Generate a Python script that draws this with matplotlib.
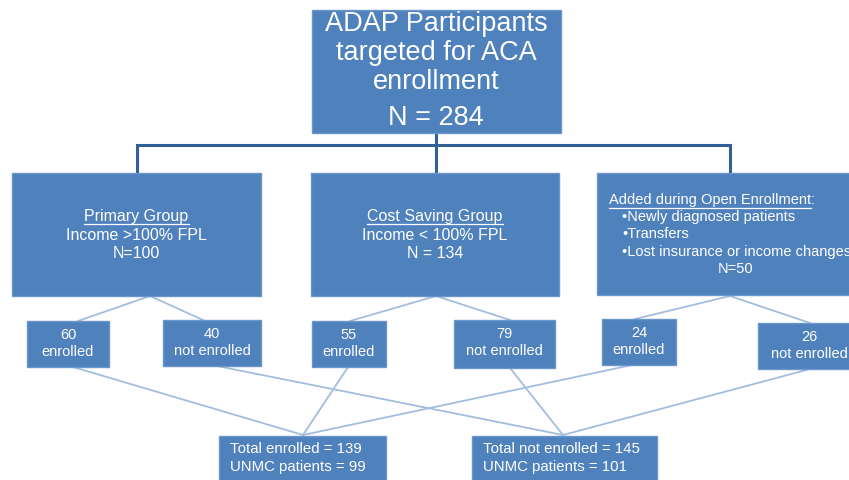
import matplotlib.pyplot as plt
from matplotlib.patches import Rectangle

plt.rcParams['font.family'] = ['Liberation Sans', 'DejaVu Sans']

box_fill = '#4f81bd'
box_edge = '#6b96cc'
dark_line = '#34609a'
light_line = '#a3bde0'

# boxes: x0, y0, x1, y1 in pixel space (y down)
top_box = (312, 10, 561, 133)
groups = ['Primary Group', 'Cost Saving Group', 'Added during Open Enrollment']
group_boxes = [(12, 173, 261, 296), (311, 173, 559, 296), (597, 173, 860, 295)]
group_lines = [['Income >100% FPL', 'N=100'],
               ['Income < 100% FPL', 'N = 134']]
added_bullets = ['Newly diagnosed patients', 'Transfers', 'Lost insurance or income changes']
added_n = 'N=50'

split_counts = [60, 40, 55, 79, 24, 26]
split_labels = ['enrolled', 'not enrolled'] * 3
split_boxes = [(27, 321, 109, 367), (163, 320, 261, 366),
               (312, 321, 386, 367), (454, 320, 555, 368),
               (602, 319, 676, 365), (758, 323, 860, 369)]

totals = [['Total enrolled = 139', 'UNMC patients = 99'],
          ['Total not enrolled = 145', 'UNMC patients = 101']]
total_boxes = [(219, 436, 386, 490), (472, 436, 657, 490)]

fig = plt.figure(figsize=(8.49, 4.8), dpi=100)
ax = fig.add_axes([0, 0, 1, 1])
ax.set_xlim(0, 849)
ax.set_ylim(480, 0)
ax.axis('off')


def box(b, lw=1.0):
    x0, y0, x1, y1 = b
    ax.add_patch(Rectangle((x0, y0), x1 - x0, y1 - y0, facecolor=box_fill,
                           edgecolor=box_edge, linewidth=lw, zorder=3))


# dark tree connectors from top box
ax.plot([137, 730], [145, 145], color=dark_line, lw=2.2, zorder=2, solid_capstyle='butt')
ax.plot([436, 436], [133, 173], color=dark_line, lw=2.2, zorder=2)
for xc in [137, 730]:
    ax.plot([xc, xc], [145, 173], color=dark_line, lw=2.2, zorder=2)

# light lines: group -> split boxes
group_bottom = [150, 436, 730]
split_top = [78, 203, 350, 510, 635, 810]
for i, sx in enumerate(split_top):
    gx = group_bottom[i // 2]
    ax.plot([gx, sx], [296, split_boxes[i][1]], color=light_line, lw=1.3, zorder=1)

# light lines: split boxes -> totals
split_bottom = [73, 217, 348, 510, 632, 810]
total_top = [303, 563]
for i, sx in enumerate(split_bottom):
    tx = total_top[i % 2]
    ax.plot([sx, tx], [split_boxes[i][3], 435], color=light_line, lw=1.3, zorder=1)

# top box
box(top_box)
top_text = ['ADAP Participants', 'targeted for ACA', 'enrollment']
for k, t in enumerate(top_text):
    ax.text(436, 24 + k * 29, t, color='white', fontsize=19.5, ha='center', va='center', zorder=4)
ax.text(436, 118, 'N = 284', color='white', fontsize=19.5, ha='center', va='center', zorder=4)

# group boxes
underlined = []
for i, b in enumerate(group_boxes):
    box(b)
for i in range(2):
    cx = (group_boxes[i][0] + group_boxes[i][2]) / 2
    t = ax.text(cx, 216, groups[i], color='white', fontsize=11.5, ha='center', va='center', zorder=4)
    underlined.append((t, 224))
    for k, line in enumerate(group_lines[i]):
        ax.text(cx, 235 + k * 18, line, color='white', fontsize=11.5, ha='center', va='center', zorder=4)

t = ax.text(609, 200, groups[2], color='white', fontsize=10.5, ha='left', va='center', zorder=4)
underlined.append((t, 207.5))
fig.canvas.draw()
bb = t.get_window_extent()
ax.text(609 + bb.width, 200, ':', color='white', fontsize=10.5, ha='left', va='center', zorder=4)
for k, line in enumerate(added_bullets):
    ax.text(622, 217 + k * 17.5, '\u2022' + line, color='white', fontsize=10.5,
            ha='left', va='center', zorder=4)
ax.text(736, 269, added_n, color='white', fontsize=10.5, ha='center', va='center', zorder=4)

# underline the group headings
fig.canvas.draw()
for t, y in underlined:
    e = t.get_window_extent()
    ax.plot([e.x0, e.x1], [y, y], color='white', lw=0.9, zorder=6)

# split boxes
for i, b in enumerate(split_boxes):
    box(b)
    cx = (b[0] + b[2]) / 2
    ax.text(cx, b[1] + 14, str(split_counts[i]), color='white', fontsize=10.5,
            ha='center', va='center', zorder=4)
    ax.text(cx, b[1] + 31, split_labels[i], color='white', fontsize=10.5,
            ha='center', va='center', zorder=4)

# total boxes
for i, b in enumerate(total_boxes):
    box(b)
    for k, line in enumerate(totals[i]):
        ax.text(b[0] + 11, 449 + k * 18, line, color='white', fontsize=10.8,
                ha='left', va='center', zorder=4)

fig.savefig('out.png', dpi=100)
